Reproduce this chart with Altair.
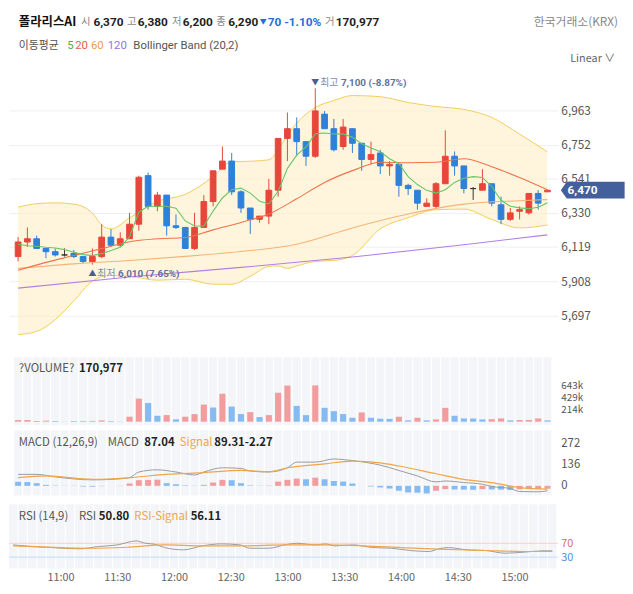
import altair as alt
import numpy as np
import pandas as pd

FONT = "Noto Sans CJK KR"
FONT_NUM = "Roboto"

# ---------------- data ----------------
times = list(range(635, 925, 5))  # minutes after midnight, 10:35 .. 15:20, 5-min candles

opens = [6060, 6150, 6170, 6110, 6090, 6070, 6080, 6060, 6030, 6060,
         6180, 6130, 6170, 6260, 6560, 6370, 6440, 6250, 6240, 6110,
         6240, 6400, 6600, 6650, 6460, 6360, 6290, 6310, 6470, 6790,
         6850, 6770, 6680, 6940, 6850, 6740, 6850, 6760, 6660, 6700,
         6620, 6630, 6500, 6470, 6370, 6370, 6510, 6680, 6620, 6480,
         6470, 6510, 6380, 6290, 6340, 6330, 6450, 6460]
highs = [6180, 6240, 6190, 6110, 6110, 6110, 6100, 6060, 6110, 6260,
         6230, 6210, 6330, 6560, 6580, 6460, 6440, 6320, 6240, 6330,
         6440, 6590, 6740, 6700, 6470, 6360, 6310, 6540, 6790, 6950,
         6920, 6770, 7100, 6960, 6910, 6910, 6850, 6760, 6770, 6720,
         6650, 6630, 6510, 6470, 6420, 6520, 6840, 6710, 6620, 6490,
         6600, 6510, 6430, 6360, 6370, 6450, 6470, 6470]
lows = [6030, 6120, 6110, 6050, 6060, 6060, 6050, 6020, 6010, 6050,
        6120, 6120, 6170, 6220, 6350, 6340, 6190, 6230, 6110, 6100,
        6240, 6370, 6600, 6440, 6330, 6200, 6270, 6260, 6430, 6650,
        6680, 6620, 6670, 6850, 6710, 6720, 6700, 6590, 6630, 6570,
        6560, 6430, 6440, 6350, 6370, 6360, 6510, 6560, 6450, 6410,
        6470, 6370, 6260, 6280, 6290, 6320, 6350, 6460]
closes = [6150, 6170, 6110, 6090, 6070, 6070, 6060, 6030, 6060, 6180,
          6130, 6170, 6260, 6550, 6370, 6440, 6250, 6240, 6110, 6240,
          6400, 6590, 6650, 6460, 6360, 6290, 6310, 6470, 6790, 6850,
          6770, 6680, 6960, 6850, 6720, 6860, 6760, 6660, 6690, 6620,
          6630, 6500, 6480, 6390, 6390, 6510, 6680, 6620, 6480, 6480,
          6510, 6390, 6290, 6330, 6350, 6450, 6390, 6470]
volumes_k = [29, 30, 12, 18, 12, 2, 12, 13, 14, 23,
             10, 3, 88, 410, 333, 105, 117, 41, 88, 135,
             304, 252, 497, 269, 135, 170, 82, 117, 515, 643,
             281, 117, 645, 246, 187, 135, 70, 164, 70, 53,
             50, 88, 23, 70, 23, 41, 246, 105, 58, 56,
             41, 45, 58, 23, 29, 31, 58, 23]

ma5 = [6136, 6127, 6124, 6117, 6113, 6103, 6086, 6072, 6066, 6078,
       6097, 6118, 6182, 6335, 6371, 6371, 6371, 6359, 6280, 6249,
       6249, 6341, 6422, 6473, 6483, 6452, 6402, 6385, 6463, 6605,
       6687, 6737, 6818, 6823, 6817, 6818, 6798, 6757, 6731, 6707,
       6664, 6634, 6554, 6505, 6469, 6452, 6473, 6518, 6544, 6554,
       6548, 6493, 6408, 6371, 6361, 6355, 6365, 6393]
ma20_idx = [1, 4, 7, 10, 13, 16, 19, 22, 25, 28, 31, 34, 37, 40, 43, 46, 49, 52, 55, 58]
ma20 = [5975, 6024, 6066, 6109, 6152, 6170, 6178, 6225, 6271, 6323,
        6417, 6518, 6591, 6643, 6640, 6643, 6664, 6615, 6548, 6472]
ma60_idx = [1, 7, 13, 19, 25, 31, 37, 43, 49, 55, 58]
ma60 = [5987, 6015, 6036, 6061, 6091, 6136, 6237, 6323, 6384, 6405, 6412]
ma120_idx = [1, 13, 25, 37, 49, 58]
ma120 = [5865, 5934, 5993, 6057, 6133, 6194]

band_idx = [1, 3, 5, 7, 9, 10, 11, 13, 16, 19, 22, 24, 26, 28, 29, 30, 31, 33, 35, 37,
            40, 43, 46, 49, 52, 55, 58]
band_upper = [6365, 6387, 6392, 6384, 6329, 6255, 6231, 6298, 6402, 6444,
              6554, 6646, 6649, 6658, 6719, 6811, 6884, 6981, 7024, 7055,
              7048, 7012, 6987, 6969, 6920, 6817, 6707]
band_lower = [5578, 5597, 5670, 5786, 5908, 5935, 5943, 5938, 5914, 5920,
              5889, 5889, 5938, 5999, 6002, 5987, 6002, 6030, 6036, 6066,
              6231, 6300, 6349, 6353, 6289, 6237, 6255]

macd_hist = [26, 24, 17, 6, 2, 1, -1, -4, -5, -2,
             0, 1, 15, 36, 38, 39, 17, 10, 3, 1,
             6, 21, 38, 36, 17, 3, 1, 2, 27, 38,
             46, 42, 52, 42, 31, 27, 15, 0, -4, -10,
             -17, -31, -42, -43, -48, -31, -21, -23, -24, -25,
             -21, -23, -24, -26, -22, -20, -19, -18]
macd_idx = [1, 3, 5, 9, 11, 13, 14, 16, 18, 20, 21, 23, 25, 26, 28, 30, 31, 33, 35, 36,
            38, 40, 42, 44, 46, 47, 49, 51, 52, 54, 55, 57, 58]
macd_val = [73, 73, 57, 38, 41, 52, 88, 102, 88, 69, 88, 115, 111, 94, 88, 115, 151, 151, 171, 167,
            153, 132, 98, 63, 25, 31, 21, 10, -4, -17, -36, -38, -31]
signal_idx = [1, 4, 9, 13, 17, 21, 25, 28, 30, 34, 37, 40, 42, 46, 49, 52, 55, 58]
signal_val = [52, 63, 41, 52, 73, 84, 98, 90, 115, 140, 157, 146, 126, 77, 41, 21, -11, -21]

rsi_idx = [1, 3, 5, 8, 10, 12, 14, 15, 16, 17, 19, 21, 23, 25, 26, 28, 30, 31, 33, 34,
           35, 37, 39, 41, 43, 45, 46, 47, 49, 51, 53, 55, 57, 58]
rsi_val = [65.4, 60.6, 57.7, 54.0, 60.6, 65.4, 76.9, 70.0, 67.0, 57.7,
           51.1, 62.6, 68.3, 65.4, 55.7, 55.7, 67.1, 70.0, 65.4, 68.3,
           62.6, 65.4, 57.7, 55.7, 49.1, 46.3, 54.0, 57.7, 51.1, 49.1,
           41.4, 44.3, 48.3, 48.3]
rsi_sig_idx = [1, 4, 9, 13, 17, 21, 25, 30, 34, 38, 42, 46, 51, 55, 58]
rsi_sig_val = [62.6, 59.7, 55.7, 58.6, 65.4, 62.6, 62.6, 65.4, 65.4, 62.6, 57.7, 52.9, 49.1, 46.3, 46.3]

time_ticks = [660, 690, 720, 750, 780, 810, 840, 870, 900]
price_ticks = [5697, 5908, 6119, 6330, 6541, 6752, 6963]
vol_ticks = [214000, 429000, 643000]
macd_ticks = [0, 136, 272]
rsi_ticks = [30, 70]
last_price = 6470
high_idx, high_val = 33, 7100
low_idx, low_val = 9, 6010

# ---------------- colours ----------------
RED, BLUE = "#e8463b", "#2f80d8"
PINK, LBLUE = "#f29c9e", "#86bbf1"
STRIPE = "#f3f5f8"
ORANGE = "#f0a548"
BAND = "#f3cd5a"

# ---------------- frames ----------------
cdf = pd.DataFrame({"t": times, "o": opens, "h": highs, "l": lows, "c": closes})
cdf["dir"] = np.where(cdf.c > cdf.o, "up", np.where(cdf.c < cdf.o, "down", "flat"))
vdf = pd.DataFrame({"t": times, "v": [v * 1000 for v in volumes_k]})
vdf["vdir"] = np.where(vdf.v.diff().fillna(1) > 0, "up", "down")
hdf = pd.DataFrame({"t": times, "v": macd_hist})
hdf["vdir"] = np.where(hdf.v.diff().fillna(-1) > 0, "up", "down")


def series(idx, vals):
    return pd.DataFrame({"t": [times[i - 1] for i in idx], "v": vals})


bdf = pd.DataFrame({"t": [times[i - 1] for i in band_idx], "u": band_upper, "lo": band_lower})
one = pd.DataFrame({"k": [0]})
tdf = pd.DataFrame({"t": times})

# ---------------- geometry ----------------
W = 556
H_MAIN, H_VOL, H_MACD, H_RSI = 283, 75, 73, 69
XS = alt.Scale(domain=[632.756, 922.95], nice=False, zero=False)


def X(f="t"):
    return alt.X(f, type="quantitative", scale=XS, axis=None)


def X_rsi(f="t"):
    return alt.X(f, type="quantitative", scale=XS, axis=alt.Axis(
        values=time_ticks, title=None, domain=False, ticks=False, grid=False,
        labelExpr="floor(datum.value/60) + ':' + (datum.value % 60 == 0 ? '00' : '30')",
        labelColor="#666", labelFontSize=11, labelPadding=3, labelFont=FONT))


def rax(values, **kw):
    base = dict(orient="right", values=values, title=None, domain=False, ticks=False,
                grid=False, labelColor="#555", labelFontSize=12, labelPadding=3,
                labelFont=FONT)
    base.update(kw)
    return alt.Axis(**base)


YS_MAIN = alt.Scale(domain=[5456.3, 7182.6], nice=False, zero=False)
AX_MAIN = rax(price_ticks, labelExpr="format(datum.value, ',')", grid=True, gridColor="#efefef")
YS_VOL = alt.Scale(domain=[-117700, 1200000], nice=False, zero=False)
AX_VOL = rax(vol_ticks, labelExpr="format(datum.value/1000, 'd') + 'k'", labelFontSize=10)
YS_MACD = alt.Scale(domain=[-92.3, 366], nice=False, zero=False)
AX_MACD = rax(macd_ticks, labelFontSize=11.5)
YS_RSI = alt.Scale(domain=[-2.86, 194.3], nice=False, zero=False)
AX_RSI = rax(rsi_ticks, labelFontSize=11,
             labelColor={"condition": {"test": "datum.value == 70", "value": "#e06a6a"},
                         "value": "#4a92dc"})


def YM(f):
    return alt.Y(f, type="quantitative", scale=YS_MAIN, axis=AX_MAIN)


def txt(s, x, y, color="#555", size=12, bold=False, align="left", font=FONT):
    return alt.Chart(one).mark_text(
        text=s, align=align, baseline="middle", color=color, fontSize=size,
        fontWeight="bold" if bold else "normal", font=font
    ).encode(x=alt.value(x), y=alt.value(y))


def num(s, x, y, color="#222", size=12, bold=True):
    return txt(s, x, y, color, size, bold, font=FONT_NUM)


cscale = alt.Scale(domain=["up", "down", "flat"], range=[RED, BLUE, "#333333"])
vscale = alt.Scale(domain=["up", "down"], range=[PINK, LBLUE])

# ---------------- main price panel ----------------
space = alt.Chart(one).mark_rule(opacity=0).encode(x=alt.value(0), y=alt.value(-64), y2=alt.value(0))
band = alt.Chart(bdf).mark_area(color="#ffefc4", opacity=0.6, interpolate="monotone").encode(
    x=X(), y=YM("u"), y2="lo:Q")
band_u = alt.Chart(bdf).mark_line(color=BAND, strokeWidth=1, interpolate="monotone").encode(
    x=X(), y=YM("u"))
band_l = alt.Chart(bdf).mark_line(color=BAND, strokeWidth=1, interpolate="monotone").encode(
    x=X(), y=YM("lo"))
wicks = alt.Chart(cdf).mark_rule(strokeWidth=1).encode(
    x=X(), y=YM("l"), y2="h:Q", color=alt.Color("dir:N", scale=cscale, legend=None))
bodies = alt.Chart(cdf).mark_bar(size=5.8, strokeWidth=1).encode(
    x=X(), y=YM("o"), y2="c:Q",
    color=alt.Color("dir:N", scale=cscale, legend=None),
    stroke=alt.Stroke("dir:N", scale=cscale, legend=None))


def ma_line(df, color, interp="monotone", width=1.1):
    return alt.Chart(df).mark_line(color=color, strokeWidth=width, interpolate=interp).encode(
        x=X(), y=YM("v"))


l120 = ma_line(series(ma120_idx, ma120), "#b27fe6")
l60 = ma_line(series(ma60_idx, ma60), "#f5b377")
l20 = ma_line(series(ma20_idx, ma20), "#f0724a")
l5 = ma_line(series(list(range(1, 59)), ma5), "#66c566", interp="linear")

hi_df = pd.DataFrame({"t": [times[high_idx - 1]], "p": [high_val]})
lo_df = pd.DataFrame({"t": [times[low_idx - 1]], "p": [low_val]})


def anno(df, s, dx, dy, color, size=10, bold=False, align="left", font=FONT):
    return alt.Chart(df).mark_text(
        text=s, dx=dx, dy=dy, align=align, baseline="middle", color=color, fontSize=size,
        fontWeight="bold" if bold else "normal", font=font).encode(x=X(), y=YM("p"))


annos = [
    anno(hi_df, "▼", 0, -5, "#4a5f94", size=8, align="center"),
    anno(hi_df, "최고", 5, -5, "#7f8db0"),
    anno(hi_df, "7,100 (-8.87%)", 26, -5, "#5f73a0", bold=True, font=FONT_NUM),
    anno(lo_df, "▲", 0, 10, "#4a5f94", size=8, align="center"),
    anno(lo_df, "최저", 5, 10, "#7f8db0"),
    anno(lo_df, "6,010 (7.65%)", 26, 10, "#5f73a0", bold=True, font=FONT_NUM),
]

tag_df = pd.DataFrame({"p": [last_price]})
tag = alt.Chart(tag_df).mark_point(
    shape="M0,0L0.7,-1L7.6,-1L7.6,1L0.7,1Z", size=289, filled=True, opacity=1,
    color="#44609c", strokeWidth=0).encode(x=alt.value(559), y=YM("p"))
tag_txt = alt.Chart(tag_df).mark_text(
    text="6,470", color="white", fontSize=12, fontWeight="bold", font=FONT_NUM, align="center",
    baseline="middle").encode(x=alt.value(581), y=YM("p"))

Y1, Y2 = -54, -29
KS = 10.5  # size of the single Korean labels in the header
header = [
    txt("폴라리스AI", 10, Y1, "#111", 12.5, True),
    txt("시", 73, Y1, "#888", KS), num("6,370", 85.5, Y1),
    txt("고", 119.5, Y1, "#888", KS), num("6,380", 130.5, Y1),
    txt("저", 165, Y1, "#888", KS), num("6,200", 176, Y1),
    txt("종", 210, Y1, "#888", KS), num("6,290", 222, Y1),
    txt("▼", 254, Y1, "#1f6fd6", 7), num("70 -1.10%", 262, Y1, "#1f6fd6"),
    txt("거", 320, Y1, "#888", KS), num("170,977", 331, Y1),
    txt("한국거래소(KRX)", 617, Y1, "#888", 12, align="right"),
    txt("이동평균", 10, Y2, "#555", 11),
    num("5", 59, Y2, "#4caf50", 11.5, False), num("20", 67, Y2, "#e8604c", 11.5, False),
    num("60", 83, Y2, "#f0a040", 11.5, False), num("120", 100, Y2, "#a070e0", 11.5, False),
    num("Bollinger Band (20,2)", 126, Y2, "#555", 11.5, False),
    txt("Linear ∨", 614, -16, "#666", 11, align="right"),
]

main = alt.layer(
    band, band_u, band_l, wicks, bodies, l120, l60, l20, l5, *annos, tag, tag_txt, space, *header
).properties(width=W, height=H_MAIN)


# ---------------- stripes helper ----------------
def stripes(y0, y1, xf=X):
    return alt.Chart(tdf).transform_calculate(a="datum.t - 2.2", b="datum.t + 2.2").mark_rect(
        color=STRIPE).encode(x=xf("a"), x2="b:Q", y=alt.value(y0), y2=alt.value(y1))


TS = 11.5  # panel title size

# ---------------- volume panel ----------------
vol = alt.layer(
    stripes(3, 72),
    alt.Chart(vdf).mark_bar(size=6.2).encode(
        x=X(), y=alt.Y("v:Q", scale=YS_VOL, axis=AX_VOL), y2=alt.datum(0),
        color=alt.Color("vdir:N", scale=vscale, legend=None)),
    txt("?VOLUME?", 10, 15, "#555", TS), txt("170,977", 71, 15, "#222", TS, bold=True),
).properties(width=W, height=H_VOL)

# ---------------- MACD panel ----------------
YMACD = lambda f: alt.Y(f, type="quantitative", scale=YS_MACD, axis=AX_MACD)
macd = alt.layer(
    stripes(2, 68),
    alt.Chart(hdf).mark_bar(size=6).encode(
        x=X(), y=YMACD("v"), y2=alt.datum(0),
        color=alt.Color("vdir:N", scale=vscale, legend=None)),
    alt.Chart(series(macd_idx, macd_val)).mark_line(color="#9a9a9a", strokeWidth=1,
                                                    interpolate="monotone").encode(x=X(), y=YMACD("v")),
    alt.Chart(series(signal_idx, signal_val)).mark_line(color=ORANGE, strokeWidth=1.2,
                                                        interpolate="monotone").encode(x=X(), y=YMACD("v")),
    txt("MACD (12,26,9)", 10, 15, "#555", TS), txt("MACD", 100, 15, "#555", TS),
    txt("87.04", 137, 15, "#222", TS, bold=True), txt("Signal", 173, 15, ORANGE, TS),
    txt("89.31-2.27", 208, 15, "#222", TS, bold=True),
).properties(width=W, height=H_MACD)

# ---------------- RSI panel ----------------
YRSI = lambda f: alt.Y(f, type="quantitative", scale=YS_RSI, axis=AX_RSI)
rsi = alt.layer(
    stripes(4, 69, X_rsi),
    alt.Chart(pd.DataFrame({"v": [70]})).mark_rule(color="#f6cdcd", strokeWidth=1).encode(y=YRSI("v")),
    alt.Chart(pd.DataFrame({"v": [30]})).mark_rule(color="#c4dcf4", strokeWidth=1).encode(y=YRSI("v")),
    alt.Chart(series(rsi_idx, rsi_val)).mark_line(color="#9a9a9a", strokeWidth=1,
                                                  interpolate="monotone").encode(x=X_rsi(), y=YRSI("v")),
    alt.Chart(series(rsi_sig_idx, rsi_sig_val)).mark_line(color=ORANGE, strokeWidth=1.2,
                                                          interpolate="monotone").encode(x=X_rsi(), y=YRSI("v")),
    txt("RSI (14,9)", 10, 17, "#555", TS), txt("RSI", 71, 17, "#555", TS),
    txt("50.80", 91, 17, "#222", TS, bold=True), txt("RSI-Signal", 127, 17, ORANGE, TS),
    txt("56.11", 184, 17, "#222", TS, bold=True),
).properties(width=W, height=H_RSI)

chart = alt.vconcat(main, vol, macd, rsi, spacing=0, bounds="flush").resolve_scale(
    color="independent", stroke="independent"
).properties(padding=0, background="white").configure(
    font=FONT, view=alt.ViewConfig(stroke=None))

chart.save("out.html", embed_options={"renderer": "svg", "actions": False})
